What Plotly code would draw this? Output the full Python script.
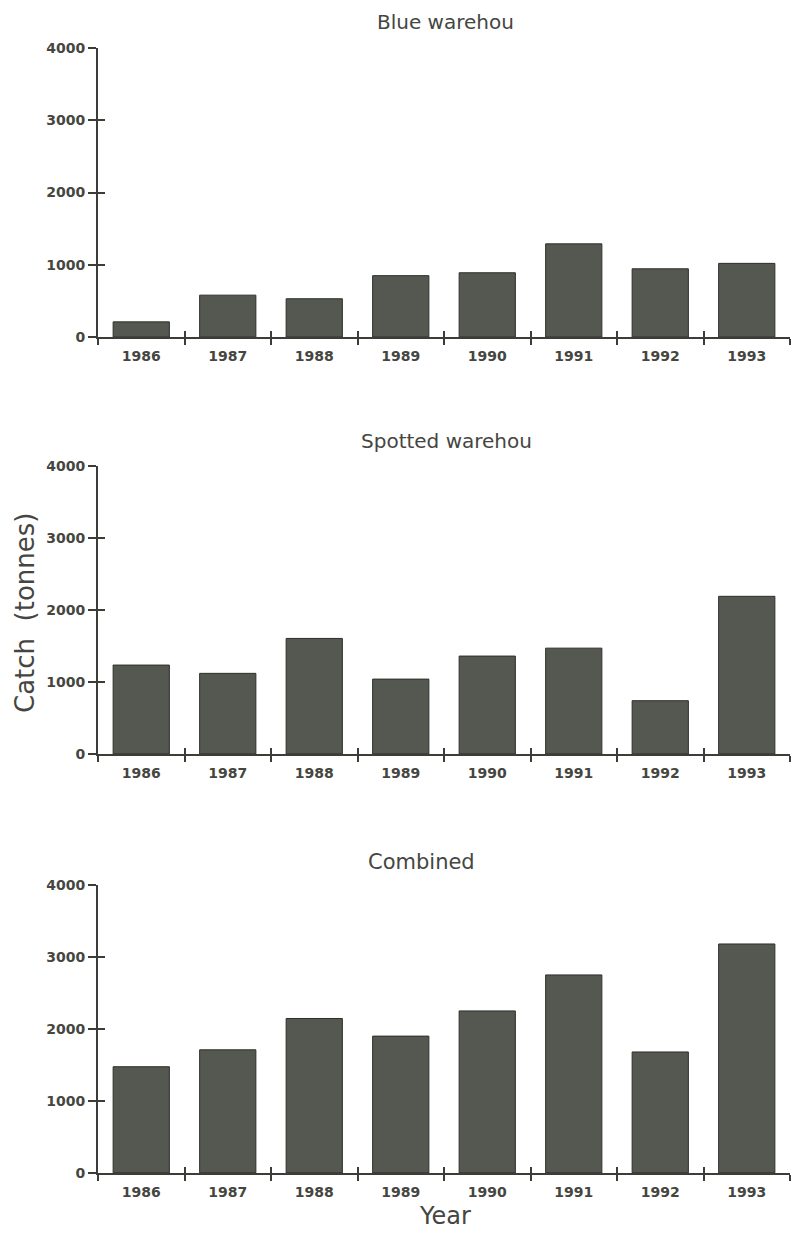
import plotly.graph_objects as go

years = ["1986", "1987", "1988", "1989", "1990", "1991", "1992", "1993"]
blue_warehou = [210, 580, 530, 850, 890, 1290, 945, 1020]
spotted_warehou = [1235, 1120, 1605, 1040, 1360, 1470, 740, 2190]
combined = [1475, 1710, 2145, 1900, 2250, 2750, 1680, 3180]
panel_titles = ["Blue warehou", "Spotted warehou", "Combined"]
y_ticks = [0, 1000, 2000, 3000, 4000]

W, H = 792, 1233
series = [blue_warehou, spotted_warehou, combined]


def fy(target_px):
    # convert a target screen y (px) to figure y, compensating page offset/scale
    return (target_px - 7.9) / (1233 / 1249)


# plot-area pixel extents (top, bottom) per panel on screen
panels_px = [(48, 337), (466, 754), (885, 1173)]
x_dom = [98 / W, 790 / W]

BAR = "#545850"
INK = "#3c3d38"
tick_font = dict(family="'DejaVu Sans', sans-serif", size=14, color="#45463f",
                 weight="bold")
label_font = dict(family="'DejaVu Sans', sans-serif", size=22, color="#45463f")

fig = go.Figure()
layout = dict(
    width=W, height=H, autosize=False, margin=dict(l=0, r=0, t=0, b=0),
    paper_bgcolor="white", plot_bgcolor="white", showlegend=False,
    bargap=0.35,
)

for i, (vals, (top, bot)) in enumerate(zip(series, panels_px)):
    n = i + 1
    xa = "x" if n == 1 else f"x{n}"
    ya = "y" if n == 1 else f"y{n}"
    fig.add_trace(go.Bar(
        x=years, y=vals, xaxis=xa, yaxis=ya,
        marker=dict(color=BAR, line=dict(color="#2e2f2b", width=1)),
        hoverinfo="x+y",
    ))
    ydom = [(H - fy(bot)) / H, (H - fy(top)) / H]
    layout[f"xaxis{'' if n == 1 else n}"] = dict(
        domain=x_dom, anchor=ya, type="category", categoryarray=years,
        range=[-0.5, 7.5], tickson="boundaries", ticks="outside", ticklen=6,
        tickwidth=2, tickcolor=INK, showline=True, linecolor=INK, linewidth=2,
        showgrid=False, zeroline=False, tickfont=tick_font, fixedrange=True,
        ticklabelstandoff=5,
    )
    layout[f"yaxis{'' if n == 1 else n}"] = dict(
        domain=ydom, anchor=xa, range=[0, 4000], tickvals=y_ticks,
        ticks="outside", ticklen=8, tickwidth=2, tickcolor=INK,
        showline=True, linecolor=INK, linewidth=2, showgrid=False,
        zeroline=False, tickfont=tick_font, ticklabelstandoff=0,
    )
    # overlay axes so that ticks cross the axis lines (inside half)
    ox = n + 3
    oxa, oya = f"x{ox}", f"y{ox}"
    fig.add_trace(go.Scatter(
        x=list(range(len(years))), y=vals, xaxis=oxa, yaxis=oya,
        mode="markers", marker=dict(opacity=0), hoverinfo="skip",
    ))
    layout[f"xaxis{ox}"] = dict(
        overlaying=xa, anchor=ya, range=[-0.5, 7.5],
        tickvals=[k + 0.5 for k in range(len(years))],
        ticks="inside", ticklen=6, tickwidth=2, tickcolor=INK,
        showticklabels=False, showline=False, showgrid=False, zeroline=False,
    )
    layout[f"yaxis{ox}"] = dict(
        overlaying=ya, anchor=xa, range=[0, 4000], tickvals=y_ticks,
        ticks="inside", ticklen=7, tickwidth=2, tickcolor=INK,
        showticklabels=False, showline=False, showgrid=False, zeroline=False,
    )

annotations = []
title_pos = [(445, 22), (446, 441), (421, 862)]
title_sizes = [20, 20, 21]
for t, (px, py), sz in zip(panel_titles, title_pos, title_sizes):
    annotations.append(dict(
        text=t, x=px / W, y=1 - fy(py) / H, xref="paper", yref="paper",
        showarrow=False, font=dict(label_font, size=sz), xanchor="center",
        yanchor="middle",
    ))
annotations.append(dict(
    text="Catch  (tonnes)", x=25 / W, y=1 - fy(613) / H, xref="paper",
    yref="paper", showarrow=False, textangle=-90,
    font=dict(label_font, size=26), xanchor="center", yanchor="middle",
))
annotations.append(dict(
    text="Year", x=445 / W, y=1 - fy(1216) / H, xref="paper", yref="paper",
    showarrow=False, font=dict(label_font, size=24), xanchor="center",
    yanchor="middle",
))
layout["annotations"] = annotations
fig.update_layout(**layout)
fig.write_html("out.html", config={"responsive": False})
